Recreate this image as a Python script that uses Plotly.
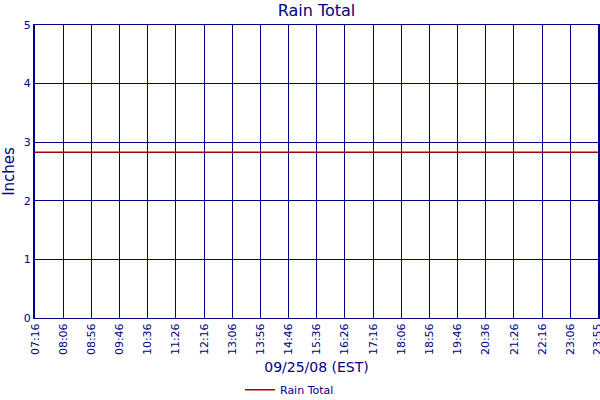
import plotly.graph_objects as go

times = ["2008-09-25 07:16", "2008-09-25 23:55"]
rain_total = [2.83, 2.83]
tick_labels = ["07:16", "08:06", "08:56", "09:46", "10:36", "11:26", "12:16", "13:06",
               "13:56", "14:46", "15:36", "16:26", "17:16", "18:06", "18:56", "19:46",
               "20:36", "21:26", "22:16", "23:06", "23:55"]
tick_vals = ["2008-09-25 " + t for t in tick_labels]

NAVY = "#000080"
FONT = "DejaVu Sans"

fig = go.Figure()
fig.add_trace(go.Scatter(x=times, y=rain_total, mode="lines", name="Rain Total",
                         line=dict(color="#aa0000", width=1.5), showlegend=True))

fig.update_layout(
    width=600, height=400,
    margin=dict(l=35, r=2, t=25, b=82, autoexpand=False),
    paper_bgcolor="white", plot_bgcolor="white",
    font=dict(family=FONT, color=NAVY),
    title=dict(text="Rain Total", xref="paper", x=0.5, xanchor="center", y=0.975, yanchor="middle",
               font=dict(size=16, color=NAVY, family=FONT)),
    showlegend=True,
    legend=dict(orientation="h", x=0.452, xanchor="center", y=-0.245, yanchor="middle",
                font=dict(size=11, color=NAVY, family=FONT), itemwidth=30),
    xaxis=dict(type="date", range=[tick_vals[0], "2008-09-25 23:55:10"],
               tickmode="array", tickvals=tick_vals, ticktext=tick_labels,
               tickangle=-90, tickfont=dict(size=11, color=NAVY),
               ticklabeloverflow="allow",
               showgrid=True, gridcolor=NAVY, gridwidth=1,
               showline=True, linecolor=NAVY, linewidth=1, mirror=True,
               ticks="", zeroline=False, automargin=False,
               title=dict(text="09/25/08 (EST)", font=dict(size=14, color=NAVY), standoff=8)),
    yaxis=dict(range=[0, 5], tickmode="array", tickvals=[0, 1, 2, 3, 4, 5],
               tickfont=dict(size=11, color=NAVY),
               showgrid=True, gridcolor=NAVY, gridwidth=1,
               showline=True, linecolor=NAVY, linewidth=2, mirror=True,
               ticks="", zeroline=False, automargin=False,
               title=dict(text="Inches", font=dict(size=15, color=NAVY), standoff=6)),
)

fig.write_html("out.html", config={"displayModeBar": False},
               post_script="document.body.style.margin='0';document.body.style.overflow='hidden';")
